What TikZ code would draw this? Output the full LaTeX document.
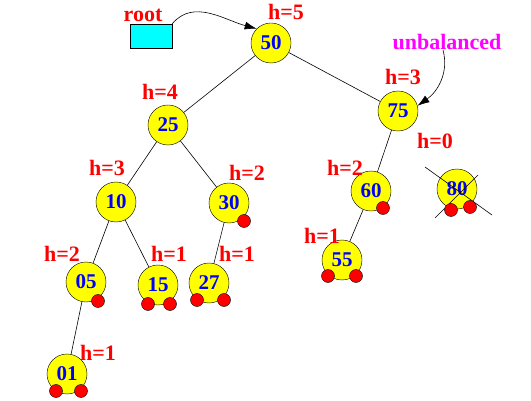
\documentclass[tikz,border=0pt]{standalone}
\usepackage{fontspec}
\setmainfont{Liberation Serif}
\usepackage{tikz}
\usetikzlibrary{arrows.meta, positioning}
\definecolor{keyfill}{HTML}{FFFF00}
\definecolor{keytext}{HTML}{0000FF}
\definecolor{hred}{HTML}{FF0000}
\definecolor{rootfill}{HTML}{00FFFF}
\definecolor{warn}{HTML}{FF00FF}
\tikzset{
  key/.style={
    circle, draw=black, fill=keyfill,
    minimum size=40pt, inner sep=0pt,
    text=keytext, font=\fontsize{21}{24}\selectfont\bfseries,
  },
  nil/.style={
    circle, draw=black, fill=hred,
    minimum size=13pt, inner sep=0pt,
  },
  height/.style={text=hred, font=\fontsize{22}{26}\selectfont\bfseries, inner sep=0pt},
  note/.style={font=\fontsize{22}{26}\selectfont\bfseries, inner sep=0pt},
  rootbox/.style={rectangle, draw=black, fill=rootfill, minimum width=42pt, minimum height=24pt, inner sep=0pt},
  edge/.style={draw=black, line width=0.6pt},
  arrow/.style={-{Latex[length=12pt, width=8pt]}, line width=0.6pt, color=black},
}

\begin{document}
\begin{tikzpicture}[x=1pt, y=-1pt]
  \useasboundingbox (0,0) rectangle (531,401);

  \node[key] (n50) at (271,43) {50};
  \node[key] (n25) at (168,125) {25};
  \node[key] (n75) at (398,111) {75};
  \node[key] (n10) at (116,202) {10};
  \node[key] (n30) at (229,203) {30};
  \node[key] (n60) at (371,191) {60};
  \node[key] (n80) at (457,189) {80};
  \node[key] (n05) at (86,282) {05};
  \node[key] (n15) at (158,285) {15};
  \node[key] (n27) at (209,283) {27};
  \node[key] (n55) at (342,260) {55};
  \node[key] (n01) at (67,374) {01};

  \draw[edge] (n50) -- (n25);
  \draw[edge] (n50) -- (n75);
  \draw[edge] (n25) -- (n10);
  \draw[edge] (n25) -- (n30);
  \draw[edge] (n10) -- (n05);
  \draw[edge] (n10) -- (n15);
  \draw[edge] (n30) -- (n27);
  \draw[edge] (n75) -- (n60);
  \draw[edge] (n60) -- (n55);
  \draw[edge] (n05) -- (n01);

  \coordinate (x1) at (425,167);
  \coordinate (x2) at (492,215);
  \coordinate (x3) at (478,175);
  \coordinate (x4) at (435,218);
  \draw[edge] (x1) -- (x2);
  \draw[edge] (x3) -- (x4);

  \node[nil] (nil30) at (244,221) {};
  \node[nil] (nil60) at (383,208) {};
  \node[nil] (nil05) at (98,301) {};
  \node[nil] (nil15a) at (148,304) {};
  \node[nil] (nil15b) at (170,304) {};
  \node[nil] (nil27a) at (197,300) {};
  \node[nil] (nil27b) at (224,300) {};
  \node[nil] (nil55a) at (328,276) {};
  \node[nil] (nil55b) at (356,276) {};
  \node[nil] (nil01a) at (56,391) {};
  \node[nil] (nil01b) at (81,391) {};
  \node[nil] (nil80a) at (451,210) {};
  \node[nil] (nil80b) at (470,207) {};

  \node[height] (h50) at (286,12) {h=5};
  \node[height] (h25) at (160,92) {h=4};
  \node[height] (h75) at (403,77) {h=3};
  \node[height] (h10) at (107,168) {h=3};
  \node[height] (h30) at (247,173) {h=2};
  \node[height] (h80) at (435,141) {h=0};
  \node[height] (h60) at (345,168) {h=2};
  \node[height] (h05) at (62,254) {h=2};
  \node[height] (h15) at (169,254) {h=1};
  \node[height] (h27) at (237,254) {h=1};
  \node[height] (h55) at (322,236) {h=1};
  \node[height] (h01) at (98,353) {h=1};

  \node[rootbox] (root) at (151,36) {};
  \node[note, text=hred] (rootlabel) at (143,15) {root};
  \node[note, text=warn] (unbal) at (447,42) {unbalanced};

  \draw[arrow] (root.north east) to[out=50, in=165] (n50.north west);
  \draw[arrow] ([xshift=-4pt]unbal.south) to[out=-75, in=35] (n75.15);
\end{tikzpicture}
\end{document}
